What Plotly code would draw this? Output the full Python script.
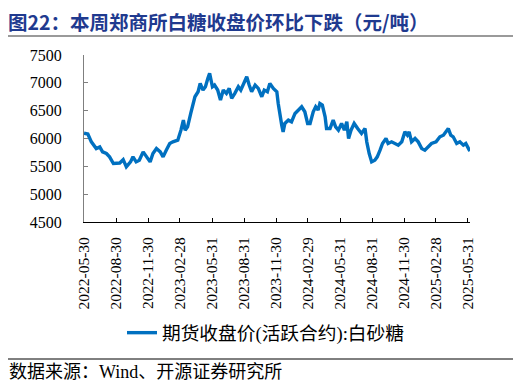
import plotly.graph_objects as go

# ---------------- data ----------------
dates = [
    "2022-05-30", "2022-06-10", "2022-06-20", "2022-07-04", "2022-07-14", "2022-07-22",
    "2022-08-02", "2022-08-11", "2022-08-22", "2022-08-30", "2022-09-09", "2022-09-19",
    "2022-09-28", "2022-10-10", "2022-10-17", "2022-10-26", "2022-11-04", "2022-11-15",
    "2022-11-24", "2022-12-05", "2022-12-13", "2022-12-23", "2023-01-03", "2023-01-11",
    "2023-01-20", "2023-01-30", "2023-02-08", "2023-02-17", "2023-02-22", "2023-03-03",
    "2023-03-10", "2023-03-15", "2023-03-22", "2023-03-31", "2023-04-06", "2023-04-12",
    "2023-04-21", "2023-04-27", "2023-05-05", "2023-05-12", "2023-05-19", "2023-05-24",
    "2023-06-01", "2023-06-07", "2023-06-16", "2023-06-24", "2023-07-02", "2023-07-11",
    "2023-07-19", "2023-07-26", "2023-08-04", "2023-08-14", "2023-08-21", "2023-08-28",
    "2023-09-07", "2023-09-14", "2023-09-21", "2023-10-01", "2023-10-10", "2023-10-20",
    "2023-10-27", "2023-11-05", "2023-11-12", "2023-11-22", "2023-12-02", "2023-12-06",
    "2023-12-11", "2023-12-16", "2023-12-20", "2023-12-25", "2024-01-04", "2024-01-13",
    "2024-01-23", "2024-02-01", "2024-02-11", "2024-02-20", "2024-02-28", "2024-03-06",
    "2024-03-15", "2024-03-22", "2024-03-29", "2024-04-03", "2024-04-10", "2024-04-18",
    "2024-04-22", "2024-05-02", "2024-05-11", "2024-05-18", "2024-05-26", "2024-06-04",
    "2024-06-12", "2024-06-19", "2024-06-24", "2024-07-01", "2024-07-10", "2024-07-20",
    "2024-07-31", "2024-08-10", "2024-08-15", "2024-08-22", "2024-08-29", "2024-09-07",
    "2024-09-14", "2024-09-22", "2024-09-29", "2024-10-09", "2024-10-15", "2024-10-25",
    "2024-11-04", "2024-11-13", "2024-11-23", "2024-12-02", "2024-12-09", "2024-12-14",
    "2024-12-21", "2024-12-31", "2025-01-09", "2025-01-19", "2025-01-28", "2025-02-07",
    "2025-02-16", "2025-03-01", "2025-03-12", "2025-03-22", "2025-03-29", "2025-04-05",
    "2025-04-12", "2025-04-19", "2025-04-29", "2025-05-08", "2025-05-18", "2025-05-25",
    "2025-06-04", "2025-06-06",
]
sugar_close = [
    6095, 6080, 5940, 5820, 5850, 5760,
    5730, 5670, 5550, 5550, 5560, 5620,
    5490, 5580, 5670, 5580, 5610, 5760,
    5670, 5580, 5730, 5820, 5760, 5670,
    5790, 5910, 5940, 5970, 5970, 6150,
    6330, 6150, 6210, 6450, 6630, 6750,
    6840, 6990, 6870, 6930, 7080, 7170,
    6930, 6960, 6870, 6690, 6870, 6810,
    6900, 6720, 6810, 6930, 6870, 6960,
    7110, 6960, 6840, 6960, 6900, 6750,
    6870, 6840, 6990, 6900, 6840, 6630,
    6390, 6240, 6120, 6270, 6330, 6300,
    6450, 6510, 6570, 6480, 6270, 6270,
    6480, 6570, 6510, 6630, 6600, 6390,
    6180, 6180, 6330, 6210, 6150, 6270,
    6150, 6300, 6000, 6150, 6270, 6180,
    6090, 6180, 5940, 5730, 5580, 5610,
    5670, 5790, 5910, 6000, 5910, 5940,
    5910, 5880, 5940, 6120, 6060, 6120,
    5940, 6000, 5940, 5820, 5790, 5850,
    5910, 5940, 6030, 6060, 6120, 6180,
    6060, 6030, 5910, 5940, 5880, 5910,
    5790, 5780,
]
tick_dates = [
    "2022-05-30", "2022-08-30", "2022-11-30", "2023-02-28", "2023-05-31", "2023-08-31",
    "2023-11-30", "2024-02-29", "2024-05-31", "2024-08-31", "2024-11-30", "2025-02-28",
    "2025-05-31",
]
y_ticks = [4500, 5000, 5500, 6000, 6500, 7000, 7500]
series_name = "期货收盘价(活跃合约):白砂糖"
title_text = "图22：本周郑商所白糖收盘价环比下跌（元/吨）"
source_text = "数据来源：Wind、开源证券研究所"

# ---------------- layout geometry ----------------
# The page body adds an 8px margin, so the figure is drawn 8px smaller and
# all target page positions are shifted by that offset.
OFF = 8
W, H = 521 - OFF, 385 - OFF
L, R, T, B = 84 - OFF, 470 - OFF, 55 - OFF, 222 - OFF


def px_x(p):
    return (p - OFF - L) / (R - L)


def px_y(p):
    return (B - (p - OFF)) / (B - T)


serif = "Liberation Serif, Times New Roman, serif"
cjk = "Liberation Serif, Noto Sans CJK SC, serif"

fig = go.Figure()
fig.add_trace(go.Scatter(
    x=dates, y=sugar_close, mode="lines", name=series_name,
    line=dict(color="#0070C0", width=3.4),
))

fig.update_layout(
    width=W, height=H,
    margin=dict(l=L, r=W - R, t=T, b=H - B),
    paper_bgcolor="white", plot_bgcolor="white",
    showlegend=True,
    legend=dict(
        orientation="h", x=px_x(122), y=px_y(333), xanchor="left", yanchor="middle",
        font=dict(family=cjk, size=18.7, color="#000000"),
        bgcolor="rgba(0,0,0,0)",
    ),
    title=dict(
        text="<b>" + title_text + "</b>", xref="container", yref="container",
        x=(7 - OFF + 1) / W, xanchor="left", y=1 - (23 - OFF) / H, yanchor="middle",
        font=dict(family="Noto Sans CJK SC", size=19.5, color="#1F3A8F"),
    ),
    xaxis=dict(
        type="date", range=["2022-05-30", "2025-06-06"],
        tickmode="array", tickvals=tick_dates, ticktext=tick_dates,
        tickangle=-90, ticks="inside", ticklen=4, tickcolor="#000000",
        showline=True, linecolor="#000000", linewidth=1,
        showgrid=False, zeroline=False, automargin=False,
        ticklabelstandoff=8,
        tickfont=dict(family=serif, size=15.5, color="#000000"),
    ),
    yaxis=dict(
        range=[4500, 7500], tickmode="array", tickvals=y_ticks,
        ticks="inside", ticklen=4, tickcolor="#7f7f7f",
        showline=True, linecolor="#7f7f7f", linewidth=1,
        showgrid=False, zeroline=False, automargin=False,
        ticklabelstandoff=18,
        tickfont=dict(family=serif, size=16, color="#000000"),
    ),
)

# rule under the title
fig.add_shape(type="line", xref="paper", yref="paper",
              x0=px_x(5), x1=px_x(516), y0=px_y(36), y1=px_y(36),
              line=dict(color="#9a9a9a", width=2))
# rule above the source line
fig.add_shape(type="line", xref="paper", yref="paper",
              x0=px_x(0), x1=px_x(516), y0=px_y(359), y1=px_y(359),
              line=dict(color="#000000", width=1))
# source note
fig.add_annotation(text=source_text, xref="paper", yref="paper",
                   x=px_x(7), y=px_y(372), xanchor="left", yanchor="middle",
                   showarrow=False,
                   font=dict(family=cjk, size=18, color="#000000"))

fig.write_html("out.html")
